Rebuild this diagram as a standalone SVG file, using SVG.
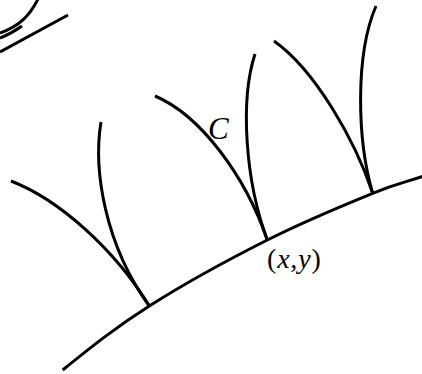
<svg xmlns="http://www.w3.org/2000/svg" width="422" height="374" viewBox="0 0 422 374">
<style>
.c{fill:none;stroke:#000;stroke-width:3;stroke-linecap:butt;stroke-linejoin:round}
.t{font-family:"Liberation Serif","Times New Roman",serif;fill:#000}
.i{font-style:italic}
</style>
<rect width="422" height="374" fill="#fff"/>
<g id="corner">
<path class="c" d="M0,52 L68,15"/>
<path class="c" d="M38,-1 C30,15 20,26 0,33"/>
<path class="c" d="M0,38 C8,35 15,31 22,26"/>
</g>
<g id="base">
<path class="c" d="M62.7,370 C91.6,346.7 115.2,327.7 149.3,306 C183.4,284.3 230.1,258.8 267.3,240 C304.5,221.2 346.9,203.8 372.7,193.3 C398.5,182.8 405.6,182.4 424,176"/>
</g>
<g id="cusp1">
<path class="c" d="M11,181 C60,200 115,250 149.3,306"/>
<path class="c" d="M101,122 C93,170 105,245 149.3,306"/>
</g>
<g id="cusp2">
<path class="c" d="M155,96 C200,115 245,175 267.3,240"/>
<path class="c" d="M255,54 C240,100 245,180 267.3,240"/>
</g>
<g id="cusp3">
<path class="c" d="M274,41 C315,70 355,140 372.7,193.3"/>
<path class="c" d="M376,6 C355,55 357,140 372.7,193.3"/>
</g>
<g id="labels">
<text class="t i" x="208" y="139" font-size="31">C</text>
<text class="t" x="267" y="268" font-size="28" letter-spacing="0.8">(<tspan class="i">x</tspan>,<tspan class="i">y</tspan>)</text>
</g>
</svg>
